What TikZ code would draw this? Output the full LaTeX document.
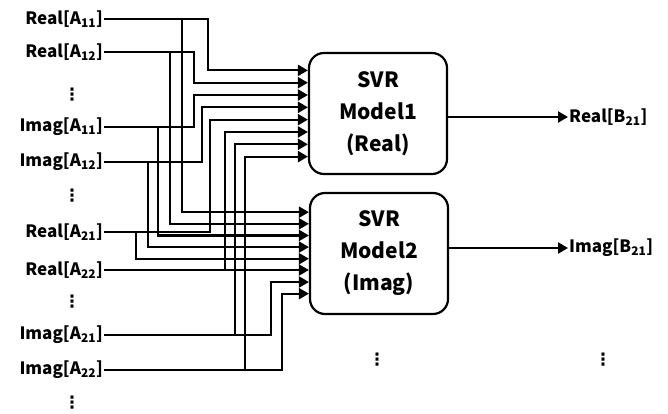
\documentclass[tikz,border=0pt]{standalone}
\usepackage{fontspec}
\setmainfont{Noto Sans CJK SC}
\newfontfamily\dotsfont{DejaVu Sans}
\usepackage{tikz}
\usetikzlibrary{positioning,arrows.meta,calc}

\begin{document}
\begin{tikzpicture}[x=1pt,y=-1pt,>={Triangle[length=10pt,width=11pt]},
  wire/.style={line width=2.2pt},
  inlabel/.style={anchor=east,inner sep=1pt,font=\fontsize{17}{17}\selectfont\bfseries},
  outlabel/.style={anchor=west,inner sep=1pt,font=\fontsize{17}{17}\selectfont\bfseries},
  model/.style={draw,line width=2.2pt,rounded corners=15pt,minimum width=138pt,minimum height=121pt,
    align=center,font=\fontsize{21}{32}\selectfont\bfseries},
  vdot/.style={inner sep=0pt,font=\fontsize{17}{17}\selectfont\bfseries\dotsfont}]
\useasboundingbox (0,0) rectangle (668,414);

% models
\node[model] (m1) at (378,113.5) {SVR\\Model1\\(Real)};
\node[model] (m2) at (379,253.5) {SVR\\Model2\\(Imag)};
\foreach \i in {1,...,8} {
  \coordinate (m1i\i) at ($(m1.north west)!{0.05+0.1*\i}!(m1.south west)$);
  \coordinate (m2i\i) at ($(m2.north west)!{0.07+0.0945*\i}!(m2.south west)$);
}

% inputs
\node[inlabel] (ra11) at (104,19) {Real[A\textsubscript{11}]};
\node[inlabel] (ra12) at (104,52) {Real[A\textsubscript{12}]};
\node[inlabel] (ia11) at (104,127) {Imag[A\textsubscript{11}]};
\node[inlabel] (ia12) at (104,162) {Imag[A\textsubscript{12}]};
\node[inlabel] (ra21) at (104,232) {Real[A\textsubscript{21}]};
\node[inlabel] (ra22) at (104,270) {Real[A\textsubscript{22}]};
\node[inlabel] (ia21) at (104,335) {Imag[A\textsubscript{21}]};
\node[inlabel] (ia22) at (104,370) {Imag[A\textsubscript{22}]};
\foreach \y [count=\k] in {95,196,302,403}
  \node[vdot] (dots\k) at (72,\y) {⋮};

% outputs
\node[outlabel] (rb21) at (568,117) {Real[B\textsubscript{21}]};
\node[outlabel] (ib21) at (568,248) {Imag[B\textsubscript{21}]};
\node[vdot] (dotsm) at (377,360) {⋮};
\node[vdot] (dotso) at (603,360) {⋮};

% wires to model 1
\foreach \src/\bx [count=\i] in {ra11/208,ra12/194,ia11/194,ia12/202,ra21/210,ra22/225,ia21/235,ia22/245}
  \draw[wire,->] (\src.east) -| (\bx,0 |- m1i\i) -- (m1i\i);
% wires to model 2
\foreach \src/\bx [count=\i] in {ra11/182,ra12/170,ia11/158,ia12/148,ra21/136}
  \draw[wire,->] (\src.east) -| (\bx,0 |- m2i\i) -- (m2i\i);
\draw[wire,->] (ra22.east) -- (ra22.east -| m2.west);
\foreach \src/\bx [count=\i from 7] in {ia21/271,ia22/282}
  \draw[wire,->] (\src.east) -| (\bx,0 |- m2i\i) -- (m2i\i);

\draw[wire,->] (m1.east |- rb21.west) -- (rb21.west);
\draw[wire,->] (m2.east |- ib21.west) -- (ib21.west);
\end{tikzpicture}
\end{document}
